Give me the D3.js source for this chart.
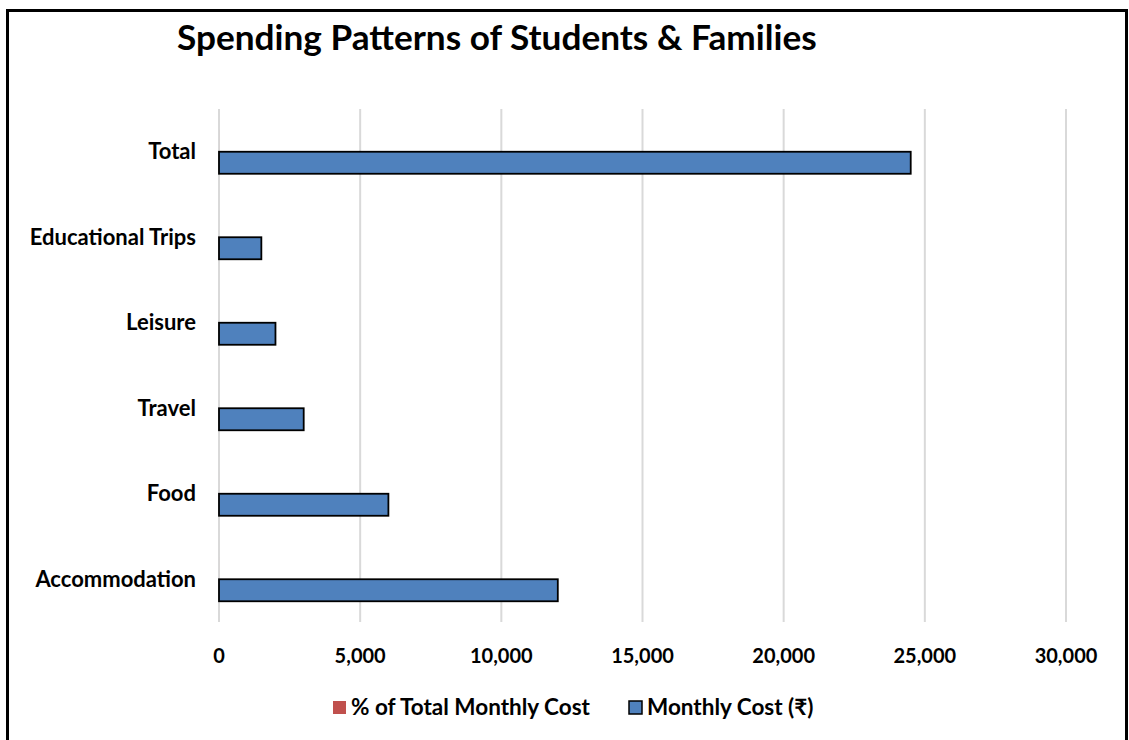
<!DOCTYPE html>
<html>
<head>
<meta charset="utf-8">
<script src="https://cdn.jsdelivr.net/npm/d3@7"></script>
<style>
    body { margin: 0; background: #fff; }
    text { font-family: Lato, "Noto Sans", sans-serif; font-weight: bold; fill: #000; }
</style>
</head>
<body>
<div id="wrapper"></div>
<script>
const categories = ["Accommodation", "Food", "Travel", "Leisure", "Educational Trips", "Total"];
const monthlyCost = [12000, 6000, 3000, 2000, 1500, 24500];
const pctOfTotal = [0.49, 0.245, 0.122, 0.082, 0.061, 1];
const seriesNames = ["% of Total Monthly Cost", "Monthly Cost (₹)"];
const seriesColors = ["#c0504d", "#4f81bd"];
const xTicks = [0, 5000, 10000, 15000, 20000, 25000, 30000];

const TITLE = "Spending Patterns of Students & Families";

const width = 1129;
const height = 740;

const dimensions = {
    width: width,
    height: height,
    margin: { top: 109, left: 219, right: 63, bottom: 118 },
};
dimensions.boundedWidth = width - dimensions.margin.left - dimensions.margin.right;
dimensions.boundedHeight = height - dimensions.margin.top - dimensions.margin.bottom;

const rows = categories.map((c, i) => ({
    category: c,
    values: [pctOfTotal[i], monthlyCost[i]],
}));

const svg = d3.select("#wrapper")
    .append("svg")
    .attr("width", width)
    .attr("height", height);

// outer frame (bottom edge is cut off in the reference)
svg.append("rect")
    .attr("x", 7.5)
    .attr("y", 10.5)
    .attr("width", 1119)
    .attr("height", 760)
    .attr("fill", "none")
    .attr("stroke", "#000")
    .attr("stroke-width", 3);

svg.append("text")
    .attr("x", 177)
    .attr("y", 50)
    .style("font-size", "35.2px")
    .text(TITLE);

const bounds = svg.append("g")
    .attr("transform", `translate(${dimensions.margin.left},${dimensions.margin.top})`);

const xScale = d3.scaleLinear()
    .domain([0, 30000])
    .range([0, dimensions.boundedWidth]);

const yScale = d3.scaleBand()
    .domain(categories.slice().reverse())
    .range([0, dimensions.boundedHeight])
    .paddingInner(0.485)
    .paddingOuter(0.2425);

const ySub = d3.scaleBand()
    .domain([0, 1])
    .range([0, yScale.bandwidth()]);

// gridlines
bounds.append("g")
    .selectAll("line")
    .data(xTicks)
    .join("line")
    .attr("x1", d => xScale(d))
    .attr("x2", d => xScale(d))
    .attr("y1", 0)
    .attr("y2", dimensions.boundedHeight)
    .attr("stroke", "#d9d9d9")
    .attr("stroke-width", 2);

// x tick labels
bounds.append("g")
    .selectAll("text")
    .data(xTicks)
    .join("text")
    .attr("x", d => xScale(d))
    .attr("y", dimensions.boundedHeight + 41)
    .attr("text-anchor", "middle")
    .style("font-size", "20px")
    .text(d => d3.format(",")(d));

// category labels
bounds.append("g")
    .selectAll("text")
    .data(categories)
    .join("text")
    .attr("x", -23)
    .attr("y", d => yScale(d) + yScale.bandwidth() / 2)
    .attr("dy", "0.35em")
    .attr("text-anchor", "end")
    .style("font-size", "22px")
    .text(d => d);

// bars
const groups = bounds.append("g")
    .selectAll("g")
    .data(rows)
    .join("g")
    .attr("transform", d => `translate(0,${yScale(d.category)})`);

groups.selectAll("rect")
    .data(d => d.values.map((v, i) => ({ v, i })))
    .join("rect")
    .attr("x", 0)
    .attr("y", d => ySub(d.i))
    .attr("width", d => xScale(d.v))
    .attr("height", ySub.bandwidth())
    .attr("fill", d => seriesColors[d.i])
    .attr("stroke", d => d.i === 1 ? "#000" : "none")
    .attr("stroke-width", 1.8);

// legend
const legendItems = [
    { x: 333, name: seriesNames[0], color: seriesColors[0], stroke: "none" },
    { x: 629, name: seriesNames[1], color: seriesColors[1], stroke: "#000" },
];
const legend = svg.append("g");
const items = legend.selectAll("g")
    .data(legendItems)
    .join("g")
    .attr("transform", d => `translate(${d.x},701)`);
items.append("rect")
    .attr("width", 13)
    .attr("height", 13)
    .attr("fill", d => d.color)
    .attr("stroke", d => d.stroke)
    .attr("stroke-width", 1.5);
items.append("text")
    .attr("x", 18)
    .attr("y", 6.5)
    .attr("dy", "0.35em")
    .style("font-size", "22.5px")
    .text(d => d.name);
</script>
</body>
</html>
